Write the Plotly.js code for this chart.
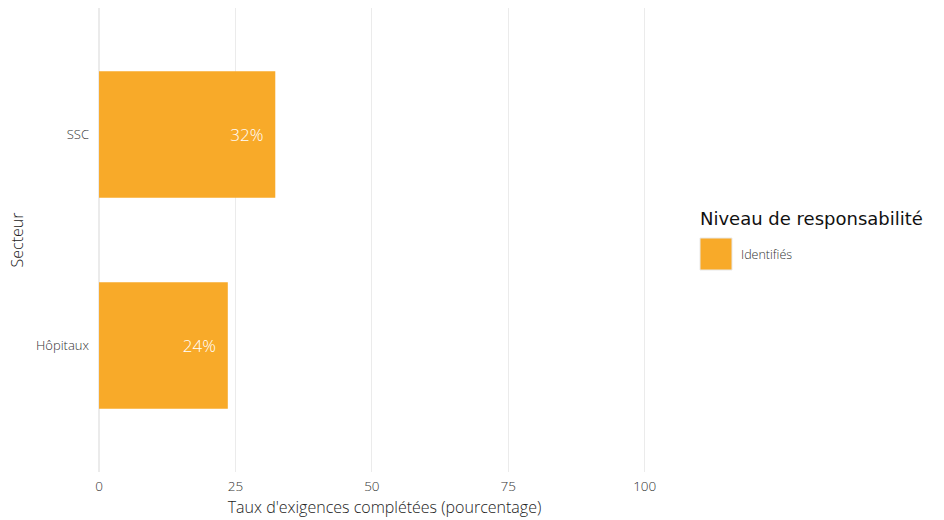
<!DOCTYPE html>
<html><head><meta charset="utf-8">
<script src="https://cdn.plot.ly/plotly-3.0.1.min.js"></script>
<style>body{margin:0;background:#fff}#c{width:944px;height:520px}</style>
</head><body><div id="c"></div>
<script>
const secteurs = ["Hôpitaux", "SSC"];
const valeurs = [23.6, 32.3];
const etiquettes = ["24%", "32%"];
const serieNom = "Identifiés";
const legendeTitre = "Niveau de responsabilité";
const xTicks = [0, 25, 50, 75, 100];
const couleur = "#F8AA29";

const trace = {
  type: "bar", orientation: "h",
  y: secteurs, x: valeurs,
  text: etiquettes.map(t => t + "\u00a0\u00a0"),
  textposition: "inside", insidetextanchor: "end",
  textfont: {family: "Open Sans", size: 17, color: "#ffffff", weight: 300},
  marker: {color: couleur}, width: 0.6,
  name: serieNom, showlegend: false, hoverinfo: "none", cliponaxis: false
};

const L = 97, W = 944 - 272 - L;
const px = v => (v - L) / W;
const py = v => (472 - v) / 464;
const layout = {
  width: 944, height: 520,
  margin: {l: L, r: 272, t: 8, b: 48},
  paper_bgcolor: "#fff", plot_bgcolor: "#fff",
  font: {family: "Open Sans", color: "#444"},
  xaxis: {
    range: [-0.37, 105], tickvals: xTicks, ticktext: xTicks.map(String),
    showgrid: true, gridcolor: "#ebebeb", gridwidth: 1.2, zeroline: false,
    showline: false, ticks: "", tickfont: {size: 13.5, color: "#333", weight: 300},
    ticklabelstandoff: 4,
    title: {text: "Taux d'exigences complétées (pourcentage)", font: {size: 16, color: "#222", weight: 300}, standoff: 8}
  },
  yaxis: {
    range: [-0.6, 1.6], showgrid: false, zeroline: false, showline: false, ticks: "",
    tickfont: {size: 13, color: "#333", weight: 300}, ticklabelstandoff: 7,
    title: {text: "Secteur", font: {size: 16, color: "#222", weight: 300}, standoff: 8}
  },
  shapes: [{type: "rect", xref: "paper", yref: "paper",
    x0: px(700), x1: px(732), y0: py(270), y1: py(238),
    fillcolor: couleur, line: {width: 1, color: "#e8e8e8"}}],
  annotations: [
    {xref: "paper", yref: "paper", x: px(698), y: py(218), xanchor: "left", yanchor: "middle",
     text: legendeTitre, showarrow: false, font: {family: "DejaVu Sans", size: 18, color: "#111"}},
    {xref: "paper", yref: "paper", x: px(739), y: py(254), xanchor: "left", yanchor: "middle",
     text: serieNom, showarrow: false, font: {family: "Open Sans", size: 12.5, color: "#333", weight: 300}}
  ]
};
Plotly.newPlot("c", [trace], layout, {displayModeBar: false, staticPlot: true});
</script></body></html>
